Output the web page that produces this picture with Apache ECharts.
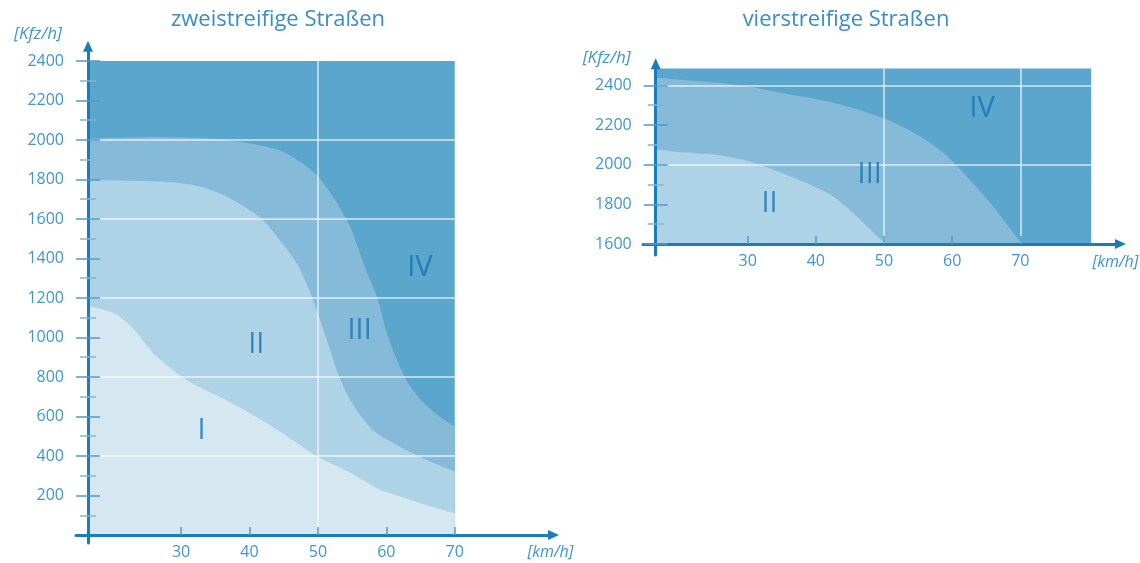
<!DOCTYPE html>
<html>
<head>
<meta charset="utf-8">
<script src="https://cdn.jsdelivr.net/npm/echarts@6/dist/echarts.min.js"></script>
<style>
  html, body { margin: 0; background: #fff; }
  #chart { width: 1140px; height: 563px; }
</style>
</head>
<body>
<div id="chart"></div>
<script>
let d = document;

// zweistreifige Straßen (links) - Grenzen zwischen den Stufen
let speedL4 = [16.4, 70];
let flowL4 = [2400, 2400];
let speedL3 = [16.4, 22, 26, 30.3, 34.2, 38.6, 42.5, 44.9, 47.4, 49.8, 52.2, 54.7, 57.2, 58.8, 60, 61.5, 63, 64.9, 67.4, 70];
let flowL3 = [2005, 2012, 2015, 2013, 2008, 1991, 1966, 1941, 1890, 1823, 1713, 1561, 1325, 1190, 1030, 890, 780, 690, 610, 548];
let speedL2 = [16.4, 24, 28.8, 32.8, 36.7, 39.6, 42, 44.4, 46.9, 48.8, 50, 51.3, 52.8, 54.7, 58, 62, 65.9, 70];
let flowL2 = [1797, 1792, 1786, 1764, 1713, 1654, 1595, 1494, 1376, 1235, 1120, 990, 830, 684, 532, 447, 380, 321];
let speedL1 = [16.4, 20.3, 23, 26.2, 30.8, 37.6, 42.4, 44.4, 47.2, 49.8, 55, 59, 62, 66, 70];
let flowL1 = [1159, 1122, 1046, 911, 785, 665, 570, 525, 460, 400, 310, 230, 195, 150, 110];

// vierstreifige Straßen (rechts)
let speedR4 = [16.5, 80.4];
let flowR4 = [2485, 2485];
let speedR3 = [16.5, 20.5, 25.5, 30.3, 35.2, 40.1, 43.5, 46, 47.9, 49.9, 53.8, 56.3, 59.2, 61.2, 63.6, 66, 68, 70, 70.3];
let flowR3 = [2438, 2427, 2413, 2393, 2360, 2330, 2305, 2280, 2258, 2235, 2172, 2120, 2045, 1975, 1885, 1790, 1700, 1612, 1600];
let speedR2 = [16.5, 20.5, 25.5, 28.9, 31.8, 35.2, 38.7, 42.1, 44, 46, 47.5, 49, 50.3];
let flowR2 = [2077, 2062, 2049, 2028, 1998, 1956, 1906, 1850, 1800, 1740, 1690, 1640, 1600];

// Achsenbeschriftung
let xTicks = [30, 40, 50, 60, 70];
let yLabelsL = [200, 400, 600, 800, 1000, 1200, 1400, 1600, 1800, 2000, 2200, 2400];
let yMinorL = [100, 300, 500, 700, 900, 1100, 1300, 1500, 1700, 1900, 2100, 2300];
let yLabelsR = [1600, 1800, 2000, 2200, 2400];
let yMinorR = [1700, 1900, 2100, 2300];

// Rasterlinien
let gridYL = [400, 800, 1200, 1600, 2000];
let gridXL = [50];
let gridYR = [2000, 2400];
let gridXR = [50, 70];

// Stufen-Beschriftung
let zoneNamesL = ["I", "II", "III", "IV"];
let zoneSpeedL = [33.0, 41.0, 56.1, 64.9];
let zoneFlowL = [528, 962, 1034, 1355];
let zoneNamesR = ["II", "III", "IV"];
let zoneSpeedR = [33.2, 47.9, 64.4];
let zoneFlowR = [1805, 1948, 2280];

let font = "'Open Sans', 'Noto Sans', sans-serif";
let axisBlue = "#1b7db7";
let tickBlue = "#4d9ccb";
let minorBlue = "#7fb6d8";
let textBlue = "#4096c9";
let colors = ["#d5e8f2", "#aed2e6", "#85bbd8", "#5ba6cc"];

function zone(xs, ys, color, g, origin) {
  return {
    type: "line", xAxisIndex: g, yAxisIndex: g * 3,
    data: xs.map((x, i) => [x, ys[i]]),
    symbol: "none", smooth: 0.25,
    lineStyle: { width: 0, opacity: 0 },
    areaStyle: { color: color, opacity: 1, origin: origin },
    silent: true, animation: false
  };
}

function raster(xs, ys, x0, x1, y0, y1) {
  let lines = [];
  ys.forEach(y => lines.push([{ coord: [x0, y] }, { coord: [x1, y] }]));
  xs.forEach(x => lines.push([{ coord: [x, y0] }, { coord: [x, y1] }]));
  return {
    silent: true, symbol: "none", animation: false,
    label: { show: false },
    lineStyle: { color: "rgba(255,255,255,0.75)", width: 1.5, type: "solid" },
    data: lines
  };
}

function labels(names, xs, ys, g) {
  return {
    type: "scatter", xAxisIndex: g, yAxisIndex: g * 3, symbolSize: 1,
    itemStyle: { color: "transparent" }, silent: true, animation: false, z: 6,
    data: names.map((n, i) => ({ name: n, value: [xs[i], ys[i]] })),
    label: { show: true, position: "inside", formatter: "{b}", fontSize: 29, color: "#1574b1", fontFamily: font }
  };
}

function xAxis(g, min, max, offset, gap, pad) {
  return {
    gridIndex: g, type: "value", min: min, max: max, position: "bottom", offset: offset, z: 10,
    axisLine: { show: true, onZero: false, lineStyle: { color: axisBlue, width: 3 }, symbol: ["none", "triangle"], symbolSize: [10, 11] },
    axisTick: { show: true, inside: true, length: 8, customValues: xTicks, lineStyle: { color: tickBlue, width: 1.5 } },
    axisLabel: { customValues: xTicks, margin: 9, color: textBlue, fontSize: 16, fontFamily: font, formatter: v => String(v) },
    splitLine: { show: false },
    name: "[km/h]", nameLocation: "end", nameGap: gap,
    nameTextStyle: { color: textBlue, fontSize: 16, fontStyle: "italic", fontFamily: font, verticalAlign: "top", padding: [pad, 0, 0, 0] }
  };
}

function yAxes(g, min, max, offset, majors, minors, gap, padRight) {
  return [
    {
      gridIndex: g, type: "value", min: min, max: max, position: "left", offset: offset, z: 10,
      axisLine: { show: true, onZero: false, lineStyle: { color: axisBlue, width: 3 }, symbol: ["none", "triangle"], symbolSize: [10, 11] },
      axisTick: { show: false },
      axisLabel: { customValues: majors, margin: 24, color: textBlue, fontSize: 16, fontFamily: font, formatter: v => String(v) },
      splitLine: { show: false },
      name: "[Kfz/h]", nameLocation: "end", nameGap: gap,
      nameTextStyle: { color: textBlue, fontSize: 17, fontStyle: "italic", fontFamily: font, align: "right", padding: [0, padRight, 0, 0] }
    },
    {
      gridIndex: g, type: "value", min: min, max: max, position: "left", offset: offset - 12, z: 10,
      axisLine: { show: false }, axisLabel: { show: false }, splitLine: { show: false },
      axisTick: { show: true, length: 24, customValues: majors, lineStyle: { color: tickBlue, width: 1.5 } }
    },
    {
      gridIndex: g, type: "value", min: min, max: max, position: "left", offset: offset - 8, z: 10,
      axisLine: { show: false }, axisLabel: { show: false }, splitLine: { show: false },
      axisTick: { show: true, length: 16, customValues: minors, lineStyle: { color: minorBlue, width: 1.5 } }
    }
  ];
}

window.onload = () => {
  let chart = echarts.init(d.getElementById("chart"), null, { renderer: "canvas" });

  let lastL = zone(speedL1, flowL1, colors[0], 0, 0);
  lastL.markLine = raster(gridXL, gridYL, 16.4, 70, 0, 2400);
  let lastR = zone(speedR2, flowR2, colors[1], 1, 1600);
  lastR.markLine = raster(gridXR, gridYR, 16.5, 80.4, 1600, 2485);

  chart.setOption({
    animation: false,
    backgroundColor: "#ffffff",
    title: [
      { text: "zweistreifige Straßen", left: 278, top: 9, textAlign: "center", padding: 0,
        textStyle: { color: "#3b8ec2", fontSize: 22, fontWeight: "normal", fontFamily: font } },
      { text: "vierstreifige Straßen", left: 846, top: 9, textAlign: "center", padding: 0,
        textStyle: { color: "#3b8ec2", fontSize: 22, fontWeight: "normal", fontFamily: font } }
    ],
    grid: [
      { left: 76, top: 46.2, width: 477.5, height: 496.8, outerBoundsMode: "none" },
      { left: 643, top: 63.8, width: 477.5, height: 191.2, outerBoundsMode: "none" }
    ],
    xAxis: [
      xAxis(0, 14.646, 84.43, -8, -26, 9),
      xAxis(1, 14.636, 84.70, -11, -28, 10)
    ],
    yAxis: [].concat(
      yAxes(0, -40.5, 2474.9, -12, yLabelsL, yMinorL, 4, 26),
      yAxes(1, 1544.6, 2508.4, -12.7, yLabelsR, yMinorR, -3, 25)
    ),
    series: [
      zone(speedL4, flowL4, colors[3], 0, 0),
      zone(speedL3, flowL3, colors[2], 0, 0),
      zone(speedL2, flowL2, colors[1], 0, 0),
      lastL,
      labels(zoneNamesL, zoneSpeedL, zoneFlowL, 0),
      zone(speedR4, flowR4, colors[3], 1, 1600),
      zone(speedR3, flowR3, colors[2], 1, 1600),
      lastR,
      labels(zoneNamesR, zoneSpeedR, zoneFlowR, 1)
    ]
  });
};
</script>
</body>
</html>
